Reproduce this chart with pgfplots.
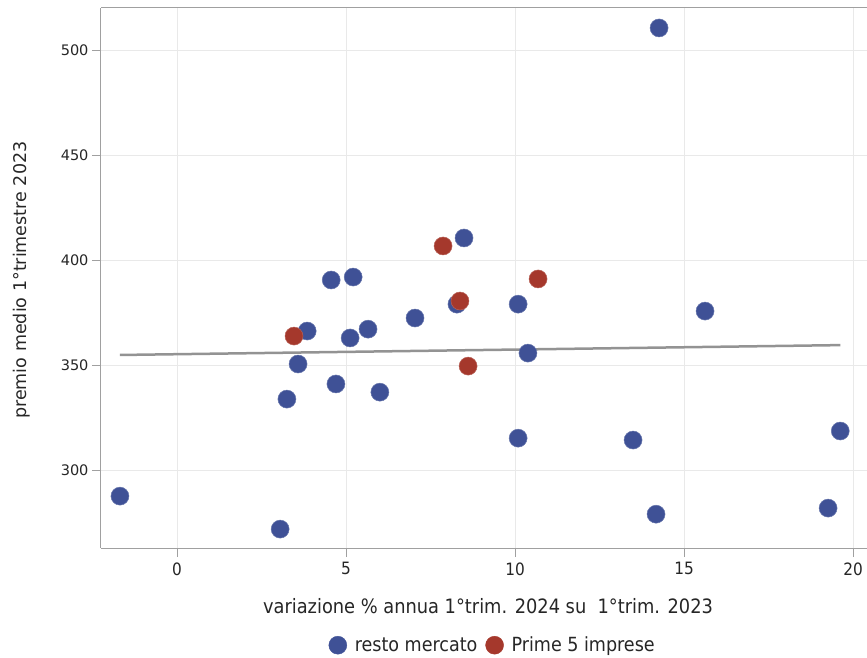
\documentclass[border=0pt]{standalone}
\usepackage{pgfplots}
\pgfplotsset{compat=1.18}
\usepackage{fontspec}
\setmainfont{DejaVu Sans}
\newfontfamily\cond{DejaVu Sans Condensed}
\definecolor{cblue}{HTML}{3F5196}
\definecolor{cred}{HTML}{A5382C}
\definecolor{gridc}{HTML}{E9E9E9}
\definecolor{axc}{HTML}{A0A0A0}
\begin{document}
\begin{tikzpicture}
\useasboundingbox (-101pt,-109pt) rectangle (766pt,548pt);
\begin{axis}[
  at={(0,0)}, anchor=south west,
  scale only axis, width=768pt, height=540pt,
  xmin=-2.25, xmax=20.47, ymin=262.9, ymax=520,
  axis y line*=left,
  xtick pos=bottom, ytick pos=left,
  xtick={0,5,10,15,20}, ytick={300,350,400,450,500},
  grid=major, major grid style={gridc, line width=1pt},
  axis line style={axc, line width=1pt, -},
  tick style={axc, line width=1pt},
  tick align=outside, major tick length=9pt,
  /pgf/number format/assume math mode=true,
  xticklabel style={font=\cond\fontsize{17}{19}\selectfont, text=black!85, yshift=-2pt},
  yticklabel style={font=\fontsize{14.5}{16}\selectfont, text=black!85},
  xlabel={variazione \% annua 1°trim. 2024 su\ \ 1°trim. 2023},
  ylabel={premio medio 1°trimestre 2023},
  xlabel style={font=\cond\fontsize{19.8}{21}\selectfont, text=black!85, at={(axis description cs:0.504,-0.107)}, anchor=center},
  ylabel style={font=\fontsize{17.5}{19}\selectfont, text=black!85, at={(axis description cs:-0.103,0.496)}, anchor=center},
  legend columns=2,
  legend style={draw=none, fill=none, at={(axis description cs:0.51,-0.18)}, anchor=center, font=\cond\fontsize{19.5}{21}\selectfont, text=black!85, /tikz/every even column/.append style={column sep=6pt}},
  legend image code/.code={\fill[#1] (9pt,0pt) circle (9pt); \path[draw=none, fill=none] (0pt,-1pt) rectangle (24pt,1pt);},
]
\addplot[only marks, mark=*, mark size=9pt, color=cblue, mark options={fill=cblue, draw=cblue!80!white, line width=0.5pt}] coordinates {
(-1.69,287.6) (3.05,271.9) (3.25,333.8) (3.58,350.5) (3.85,366.2) (4.56,390.5)
(4.70,341.0) (5.12,362.9) (5.21,391.9) (5.65,367.1) (6.00,337.1) (7.04,372.4)
(8.28,379.0) (8.49,410.5) (10.09,379.0) (10.09,315.2) (10.38,355.7) (13.49,314.3)
(14.17,279.0) (14.26,510.5) (15.62,375.7) (19.26,281.9) (19.62,318.6)
};
\addlegendentry{resto mercato}
\addplot[only marks, mark=*, mark size=9pt, color=cred, mark options={fill=cred, draw=cred!80!white, line width=0.5pt}] coordinates {
(3.46,363.8) (7.87,406.7) (8.37,380.5) (8.61,349.5) (10.68,391.0)
};
\addlegendentry{Prime 5 imprese}
\addplot[forget plot, color=gray!85, line width=2.5pt, no marks] coordinates {(-1.69,354.8) (19.62,359.5)};
\end{axis}
\end{tikzpicture}
\end{document}
